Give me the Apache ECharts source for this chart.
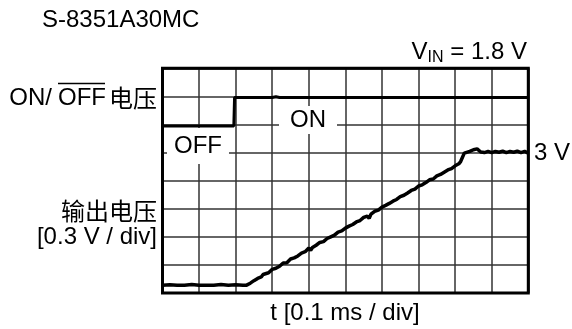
<!DOCTYPE html>
<html>
<head>
<meta charset="utf-8">
<script src="https://cdn.jsdelivr.net/npm/echarts@6/dist/echarts.min.js"></script>
<style>html,body{margin:0;padding:0;background:#fff}#c{width:572px;height:329px}</style>
</head>
<body>
<div id="c"></div>
<script>
// x in ms (0.1 ms / div), y in divisions (8 div full scale)
const xTicks = {min: 0, max: 1.0, interval: 0.1};
const yTicks = {min: 0, max: 8, interval: 1};

const tOnOff = [0, 0.03, 0.035, 0.05, 0.055, 0.195, 0.197, 0.30, 0.31, 0.32, 1.0];
const vOnOff = [5.95, 5.95, 5.99, 5.95, 5.98, 5.95, 6.96, 6.96, 6.99, 6.96, 6.96];

const tOut = [0, 0.02, 0.04, 0.06, 0.08, 0.10, 0.12, 0.14, 0.16, 0.18, 0.20, 0.22, 0.23,
  0.24, 0.25, 0.255, 0.26, 0.27, 0.275, 0.28, 0.29, 0.30, 0.305, 0.31, 0.32, 0.33, 0.335, 0.34, 0.35, 0.36, 0.365, 0.37, 0.38, 0.39,
  0.40, 0.405, 0.41, 0.42, 0.43, 0.435, 0.44, 0.45, 0.46, 0.465, 0.47, 0.48, 0.49, 0.495, 0.50, 0.51, 0.52, 0.525, 0.53, 0.54, 0.55,
  0.56, 0.565, 0.57, 0.58, 0.59, 0.595, 0.60, 0.61, 0.62, 0.625, 0.63, 0.64, 0.65, 0.655, 0.66, 0.67, 0.68, 0.685, 0.69, 0.70, 0.71,
  0.715, 0.72, 0.73, 0.74, 0.745, 0.75, 0.76, 0.77, 0.775, 0.78, 0.79, 0.80, 0.805, 0.81, 0.815, 0.825, 0.83, 0.84, 0.85, 0.86,
  0.87, 0.88, 0.89, 0.90, 0.91, 0.92, 0.93, 0.94, 0.95, 0.96, 0.97, 0.98, 0.99, 1.00];
const vOut = [0.28, 0.29, 0.28, 0.28, 0.30, 0.28, 0.28, 0.28, 0.30, 0.28, 0.29, 0.28, 0.28,
  0.35, 0.44, 0.41, 0.52, 0.57, 0.66, 0.60, 0.72, 0.84, 0.80, 0.88, 0.95, 1.07, 1.00, 1.08, 1.21, 1.25, 1.20, 1.32, 1.42, 1.47,
  1.60, 1.52, 1.62, 1.70, 1.80, 1.74, 1.83, 1.94, 2.00, 1.95, 2.06, 2.17, 2.21, 2.14, 2.31, 2.38, 2.44, 2.37, 2.53, 2.58, 2.69,
  2.74, 2.66, 2.81, 2.91, 2.95, 2.88, 3.06, 3.12, 3.19, 3.12, 3.27, 3.33, 3.43, 3.36, 3.48, 3.56, 3.65, 3.58, 3.70, 3.81, 3.85,
  3.78, 3.93, 4.03, 4.06, 3.99, 4.17, 4.22, 4.30, 4.23, 4.38, 4.43, 4.53, 4.46, 4.60, 4.68, 4.98, 5.00, 5.04, 5.10, 5.13,
  5.02, 5.00, 5.04, 5.00, 5.04, 5.01, 5.05, 5.00, 5.04, 5.01, 5.05, 5.00, 5.04, 4.98];

const FONT = "'Liberation Sans', Arial, sans-serif";
const CJK = "'Noto Sans CJK SC', sans-serif";
const FS = 24;

const chart = echarts.init(document.getElementById('c'));
const zip = (a, b) => a.map((v, i) => [v, b[i]]);
const txt = (text, x, y, align, extra) => Object.assign({
  type: 'text', x: x, y: y, z: 10,
  style: Object.assign({text: text, fill: '#000', font: FS + 'px ' + FONT, textAlign: align || 'left', textVerticalAlign: 'middle'}, extra || {})
});

chart.setOption({
  animation: false,
  grid: {left: 162.5, right: 43.7, top: 68.3, bottom: 36, show: true, borderColor: '#000', borderWidth: 3, backgroundColor: 'transparent', z: 3},
  xAxis: {type: 'value', min: xTicks.min, max: xTicks.max, interval: xTicks.interval,
    axisLine: {show: false}, axisTick: {show: false}, axisLabel: {show: false},
    splitLine: {show: true, lineStyle: {color: '#333', width: 1.5}}},
  yAxis: {type: 'value', min: yTicks.min, max: yTicks.max, interval: yTicks.interval,
    axisLine: {show: false}, axisTick: {show: false}, axisLabel: {show: false},
    splitLine: {show: true, lineStyle: {color: '#333', width: 1.5}}},
  series: [
    {type: 'line', data: zip(tOnOff, vOnOff), showSymbol: false, lineStyle: {color: '#000', width: 3}, z: 5},
    {type: 'line', data: zip(tOut, vOut), showSymbol: false, lineStyle: {color: '#000', width: 3.5}, z: 5}
  ],
  graphic: [
    txt('S-8351A30MC', 42, 20),
    {type: 'text', x: 527, y: 52, z: 10, style: {
      text: '{a|V}{b|IN}{a| = 1.8 V}', textAlign: 'right', textVerticalAlign: 'middle',
      rich: {a: {font: FS + 'px ' + FONT, fill: '#000'}, b: {font: '16px ' + FONT, fill: '#000', padding: [11, 0, 0, 0]}}}},
    txt('ON/', 52, 98, 'right'),
    txt('OFF', 58, 98, 'left'),
    {type: 'line', z: 10, shape: {x1: 58, y1: 83.5, x2: 105, y2: 83.5}, style: {stroke: '#000', lineWidth: 1.5}},
    txt('电压', 157, 98, 'right', {font: FS + 'px ' + CJK}),
    txt('输出电压', 157, 211, 'right', {font: FS + 'px ' + CJK}),
    txt('[0.3 V / div]', 157, 237, 'right'),
    txt('ON', 308, 120, 'center', {backgroundColor: '#fff', padding: [2, 11, 2, 11]}),
    txt('OFF', 198, 146, 'center', {backgroundColor: '#fff', padding: [6, 7, 6, 7]}),
    txt('3 V', 534, 153, 'left'),
    txt('t [0.1 ms / div]', 345, 313, 'center')
  ]
});
</script>
</body>
</html>
